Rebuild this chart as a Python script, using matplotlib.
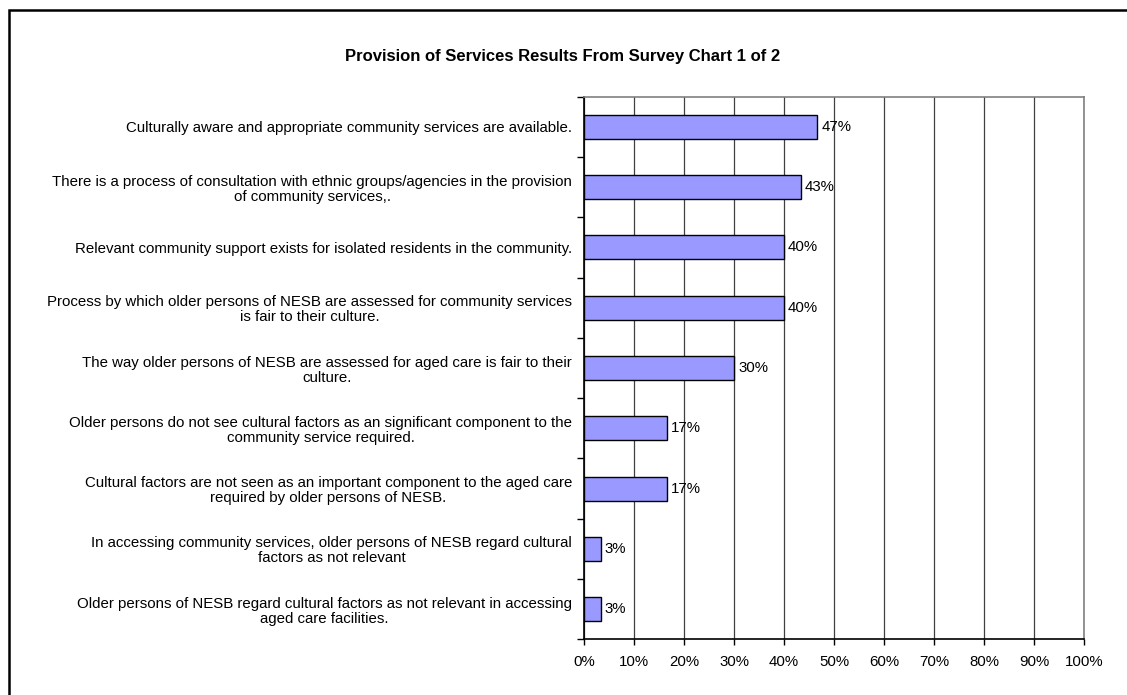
import matplotlib.pyplot as plt
from matplotlib.patches import Rectangle
from matplotlib.ticker import PercentFormatter
import numpy as np

plt.rcParams['font.family'] = ['Liberation Sans', 'DejaVu Sans']

TITLE = 'Provision of Services Results From Survey Chart 1 of 2'
RESPONDENTS = 30

statements = [
    'Culturally aware and appropriate community services are available.',
    'There is a process of consultation with ethnic groups/agencies in the provision\nof community services,.',
    'Relevant community support exists for isolated residents in the community.',
    'Process by which older persons of NESB are assessed for community services\nis fair to their culture.',
    'The way older persons of NESB are assessed for aged care is fair to their\nculture.',
    'Older persons do not see cultural factors as an significant component to the\ncommunity service required.',
    'Cultural factors are not seen as an important component to the aged care\nrequired by older persons of NESB.',
    'In accessing community services, older persons of NESB regard cultural\nfactors as not relevant',
    'Older persons of NESB regard cultural factors as not relevant in accessing\naged care facilities.',
]
agree_counts = [14, 13, 12, 12, 9, 5, 5, 1, 1]
x_ticks = [0, 10, 20, 30, 40, 50, 60, 70, 80, 90, 100]

pct = np.array(agree_counts) / RESPONDENTS * 100
y = np.arange(len(statements))
FS = 10.8

fig = plt.figure(figsize=(11.27, 6.95), dpi=100)
ax = fig.add_axes([0.5182, 0.0801, 0.4436, 0.7808])

# outer frame of the chart object
fig.patches.append(Rectangle((8.5 / 1127, -0.05), 1.2, (695 - 10) / 695 + 0.05,
                             transform=fig.transFigure, fill=False,
                             edgecolor='black', linewidth=1.8))

ax.barh(y, pct, height=0.4, color='#9999FF', edgecolor='black', linewidth=1.0, zorder=3)
for yi, v in zip(y, pct):
    ax.text(v + 0.8, yi, f'{v:.0f}%', va='center', ha='left', fontsize=FS, zorder=4)

ax.set_xlim(0, 100)
ax.set_ylim(len(statements) - 0.5, -0.5)
ax.set_xticks(x_ticks)
ax.xaxis.set_major_formatter(PercentFormatter(decimals=0))
ax.xaxis.grid(True, color='#404040', linewidth=0.9, zorder=0)

# category labels sit between boundary ticks
ax.set_yticks(np.arange(len(statements) + 1) - 0.5)
ax.set_yticklabels([])
ax.set_yticks(y, minor=True)
ax.set_yticklabels(statements, minor=True, fontsize=FS, multialignment='center',
                   linespacing=1.1)
ax.tick_params(axis='y', which='minor', length=0, pad=8.6)
ax.tick_params(axis='y', which='major', length=5, width=1, direction='out')
ax.tick_params(axis='x', length=4, width=1, direction='out', labelsize=FS, pad=7)

for side in ['top', 'right']:
    ax.spines[side].set_color('#808080')
    ax.spines[side].set_linewidth(1.2)
for side in ['left', 'bottom']:
    ax.spines[side].set_color('black')
    ax.spines[side].set_linewidth(1.2)

fig.text(0.4995, (695 - 57) / 695, TITLE, ha='center', va='center',
         fontsize=12, fontweight='bold')

fig.savefig('out.png', dpi=100)
